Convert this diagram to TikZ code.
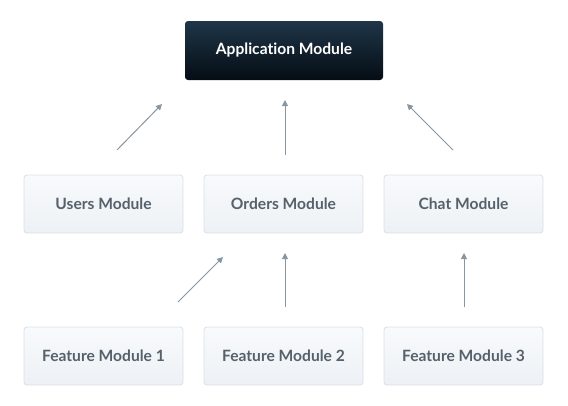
\documentclass[tikz,border=0pt]{standalone}
\usepackage{fontspec}
\setmainfont[Ligatures=NoCommon,Contextuals=NoAlternate]{Lato}
\usetikzlibrary{arrows.meta}
\definecolor{apptop}{HTML}{1F3548}
\definecolor{appbot}{HTML}{050D14}
\definecolor{boxtop}{HTML}{F8FAFC}
\definecolor{boxbot}{HTML}{EDF1F5}
\definecolor{boxline}{HTML}{D9DFE6}
\definecolor{txtgray}{HTML}{56616C}
\definecolor{arrowgray}{HTML}{8896A2}
\begin{document}
\begin{tikzpicture}[x=1pt,y=-1pt,
  appbox/.style={rounded corners=3pt, top color=apptop, bottom color=appbot, draw=none,
    minimum width=198pt, minimum height=59pt, text=white,
    font=\fontsize{15.6}{18}\selectfont\bfseries, inner sep=0pt},
  modbox/.style={rounded corners=3pt, top color=boxtop, bottom color=boxbot, draw=boxline, line width=0.8pt,
    minimum width=159pt, minimum height=58pt, text=txtgray,
    font=\fontsize{15.6}{18}\selectfont\bfseries, inner sep=0pt},
  conn/.style={draw=arrowgray, line width=1pt, -{Triangle[length=6pt,width=6pt]}}]
\useasboundingbox (0,0) rectangle (568,405);
\node[appbox] (app) at (284,50.5) {Application Module};
\node[modbox] (users) at (103.5,204) {Users Module};
\node[modbox] (orders) at (283.5,204) {Orders Module};
\node[modbox] (chat) at (463.5,204) {Chat Module};
\node[modbox] (f1) at (103.5,356) {Feature Module 1};
\node[modbox] (f2) at (283.5,356) {Feature Module 2};
\node[modbox] (f3) at (463.5,356) {Feature Module 3};
\coordinate (u1) at (117,150); \coordinate (u2) at (162,104);
\coordinate (o1) at (285,155); \coordinate (o2) at (285,100);
\coordinate (c1) at (453,150); \coordinate (c2) at (407,104);
\coordinate (fa1) at (178,302); \coordinate (fa2) at (223,257);
\coordinate (fb1) at (285,307); \coordinate (fb2) at (285,253);
\coordinate (fc1) at (464,307); \coordinate (fc2) at (464,253);
\draw[conn] (u1) -- (u2);
\draw[conn] (o1) -- (o2);
\draw[conn] (c1) -- (c2);
\draw[conn] (fa1) -- (fa2);
\draw[conn] (fb1) -- (fb2);
\draw[conn] (fc1) -- (fc2);
\end{tikzpicture}
\end{document}
